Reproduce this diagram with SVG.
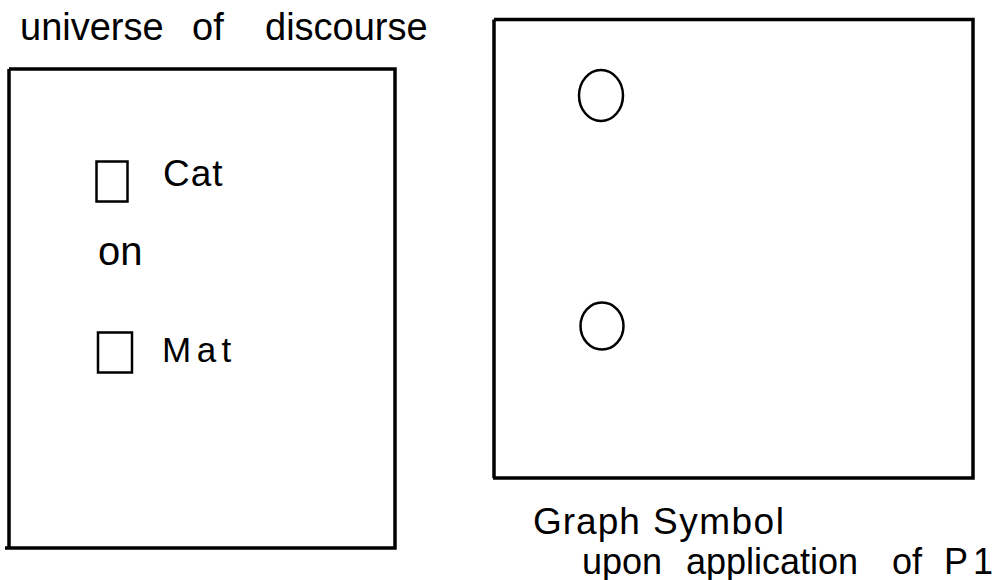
<svg xmlns="http://www.w3.org/2000/svg" width="1002" height="580" viewBox="0 0 1002 580">
  <style>
    .frame { fill: none; stroke: #000; stroke-width: 3.5; }
    .sym { fill: none; stroke: #000; stroke-width: 2.5; }
    .lbl { font-family: "Liberation Sans", Arial, sans-serif; fill: #000; }
  </style>
  <rect width="1002" height="580" fill="#fff"/>

  <!-- left panel: universe of discourse -->
  <g id="universe">
    <text class="lbl" font-size="38" x="20" y="40">universe</text>
    <text class="lbl" font-size="38" x="192" y="40">of</text>
    <text class="lbl" font-size="38" x="265" y="40">discourse</text>
    <path class="frame" d="M9 69 H395 V548 H5 M9 69 V548"/>
  </g>

  <g id="cat">
    <rect class="sym" x="96.5" y="161.5" width="31" height="40"/>
    <text class="lbl" font-size="37" x="163" y="186" letter-spacing="1">Cat</text>
  </g>

  <g id="on">
    <text class="lbl" font-size="40" x="98" y="265">on</text>
  </g>

  <g id="mat">
    <rect class="sym" x="98" y="332.5" width="34" height="40"/>
    <text class="lbl" font-size="35" x="162" y="362" letter-spacing="5.5">Mat</text>
  </g>

  <!-- right panel: graph symbol -->
  <g id="graph-symbol">
    <path class="frame" d="M494 19.5 H973 V478 H493 M494 19.5 V478"/>
    <ellipse class="sym" cx="601" cy="95.5" rx="22" ry="25.5"/>
    <ellipse class="sym" cx="602" cy="326" rx="21.5" ry="23.5"/>
  </g>

  <g id="caption">
    <text class="lbl" font-size="37" x="533" y="534" letter-spacing="1">Graph</text>
    <text class="lbl" font-size="37" x="653" y="534" letter-spacing="1.5">Symbol</text>
    <text class="lbl" font-size="36" x="582" y="574">upon</text>
    <text class="lbl" font-size="36" x="686" y="574">application</text>
    <text class="lbl" font-size="36" x="892" y="574">of</text>
    <text class="lbl" font-size="36" x="944" y="574" letter-spacing="5">P1</text>
  </g>
</svg>
